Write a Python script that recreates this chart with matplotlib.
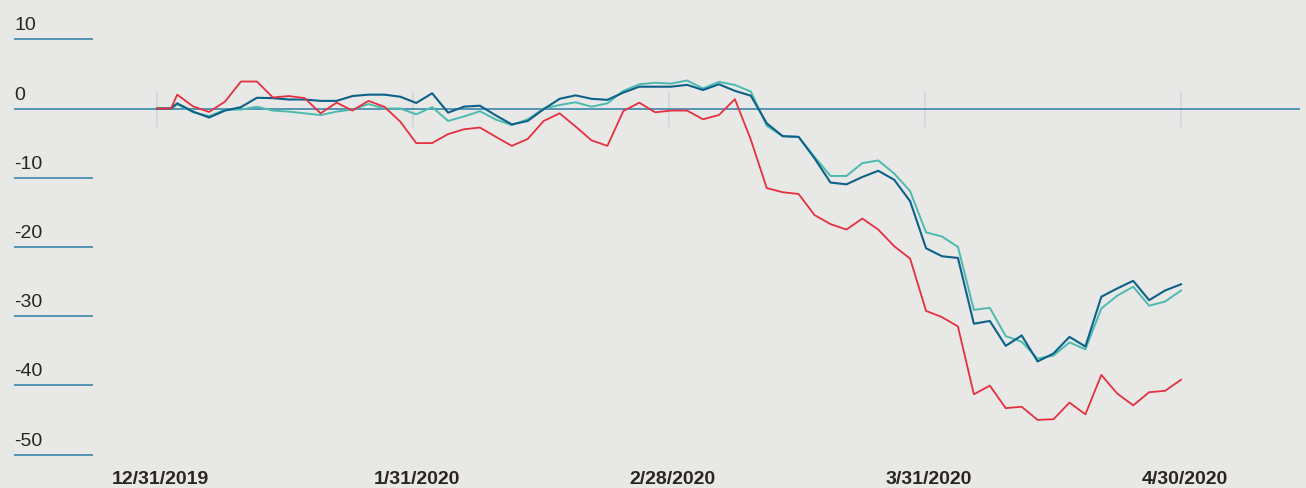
"""Recreate the index-performance line chart (12/31/2019 - 4/30/2020)."""

from __future__ import annotations

import matplotlib

matplotlib.use("Agg")
import matplotlib.pyplot as plt
import numpy as np


OUTPUT_PATH = "out.png"

# x axis: month steps, 0 = 12/31/2019 ... 4 = 4/30/2020
TICK_POS = [0, 1, 2, 3, 4]
TICK_LABELS = ["12/31/2019", "1/31/2020", "2/28/2020", "3/31/2020", "4/30/2020"]
Y_TICKS = [10, 0, -10, -20, -30, -40, -50]

# sample positions (in months): two opening points, then 64 evenly spaced ones
X_START = [0.0, 0.055]
X_GRID = np.linspace(0.079, 4.0, 64)

RED = [
    0, 0,
    2.0, 0.3, -0.5, 1.0, 3.9, 3.9, 1.6, 1.8, 1.5, -0.7,
    0.85, -0.3, 1.1, 0.25, -1.9, -5.0, -5.0, -3.7, -3.0, -2.75,
    -4.1, -5.4, -4.4, -1.8, -0.7, -2.6, -4.6, -5.4, -0.36, 0.84,
    -0.55, -0.3, -0.3, -1.56, -0.94, 1.35, -4.5, -11.5, -12.1, -12.35,
    -15.4, -16.7, -17.5, -15.9, -17.5, -19.9, -21.7, -29.25, -30.15, -31.5,
    -41.3, -40.05, -43.3, -43.1, -45.0, -44.9, -42.5, -44.2, -38.5, -41.2,
    -42.9, -41.0, -40.8, -39.2,
]
BLUE = [
    0, 0,
    0.75, -0.45, -1.3, -0.3, 0.2, 1.55, 1.5, 1.3, 1.3, 1.1,
    1.1, 1.8, 2.0, 2.0, 1.7, 0.8, 2.2, -0.6, 0.27, 0.4,
    -1.0, -2.3, -1.8, -0.1, 1.4, 1.9, 1.4, 1.25, 2.3, 3.15,
    3.15, 3.15, 3.42, 2.67, 3.5, 2.55, 1.85, -2.14, -4.0, -4.1,
    -7.2, -10.7, -10.96, -9.9, -9.0, -10.3, -13.4, -20.2, -21.35, -21.6,
    -31.1, -30.7, -34.3, -32.8, -36.55, -35.4, -33.0, -34.4, -27.2, -26.0,
    -24.9, -27.7, -26.3, -25.4,
]
TEAL = [
    0, 0,
    0.6, -0.55, -1.1, -0.2, -0.15, 0.25, -0.3, -0.45, -0.7, -0.95,
    -0.45, -0.15, 0.65, 0.0, 0.0, -0.84, 0.2, -1.8, -1.15, -0.4,
    -1.6, -2.4, -1.56, 0.0, 0.5, 0.9, 0.26, 0.75, 2.55, 3.5,
    3.72, 3.6, 4.05, 2.9, 3.85, 3.4, 2.45, -2.5, -4.0, -4.1,
    -7.0, -9.75, -9.75, -7.9, -7.5, -9.4, -11.95, -17.9, -18.5, -20.0,
    -29.1, -28.8, -32.9, -33.7, -36.15, -35.7, -33.8, -34.8, -28.9, -27.05,
    -25.75, -28.5, -27.9, -26.3,
]

BG = "#e8e8e6"
TEXT = "#2a2522"
RULE = "#3a86aa"
FONT = ["Liberation Sans Narrow", "Liberation Sans", "DejaVu Sans"]


def main() -> None:
    fig = plt.figure(figsize=(13.06, 4.88), dpi=100, facecolor=BG)
    ax = fig.add_axes([0, 0, 1, 1], facecolor=BG)

    # pixel-aligned limits: 256 px per month, 6.92 px per point
    ax.set_xlim(-157 / 256, (1306 - 157) / 256)
    ax.set_ylim((108.5 - 488) / 6.92, 108.5 / 6.92)
    ax.axis("off")

    x = np.concatenate([X_START, X_GRID])

    ax.vlines(TICK_POS, -2.7, 2.6, color="#d8d8d8", lw=1.5, zorder=1)

    left, label_end, right = -143 / 256, -64 / 256, 1143 / 256
    for value in Y_TICKS:
        end = right if value == 0 else label_end
        ax.hlines(value, left, end, color=RULE, lw=1.2, zorder=2)
        ax.text(left, value + 0.7, f"{value}",
                ha="left", va="bottom", fontsize=14, color=TEXT, family=FONT)

    ax.plot(x, TEAL, color="#4dbab0", lw=1.4, zorder=3)
    ax.plot(x, BLUE, color="#0d6189", lw=1.5, zorder=4)
    ax.plot(x, RED, color="#e5303f", lw=1.3, zorder=5)

    for pos, label in zip(TICK_POS, TICK_LABELS):
        ax.text(pos + 0.015, (108.5 - 471) / 6.92, label, ha="center", va="top",
                fontsize=14, fontweight="bold", color=TEXT, family=FONT)

    fig.savefig(OUTPUT_PATH, dpi=100, facecolor=BG)
    plt.close(fig)


if __name__ == "__main__":
    main()
